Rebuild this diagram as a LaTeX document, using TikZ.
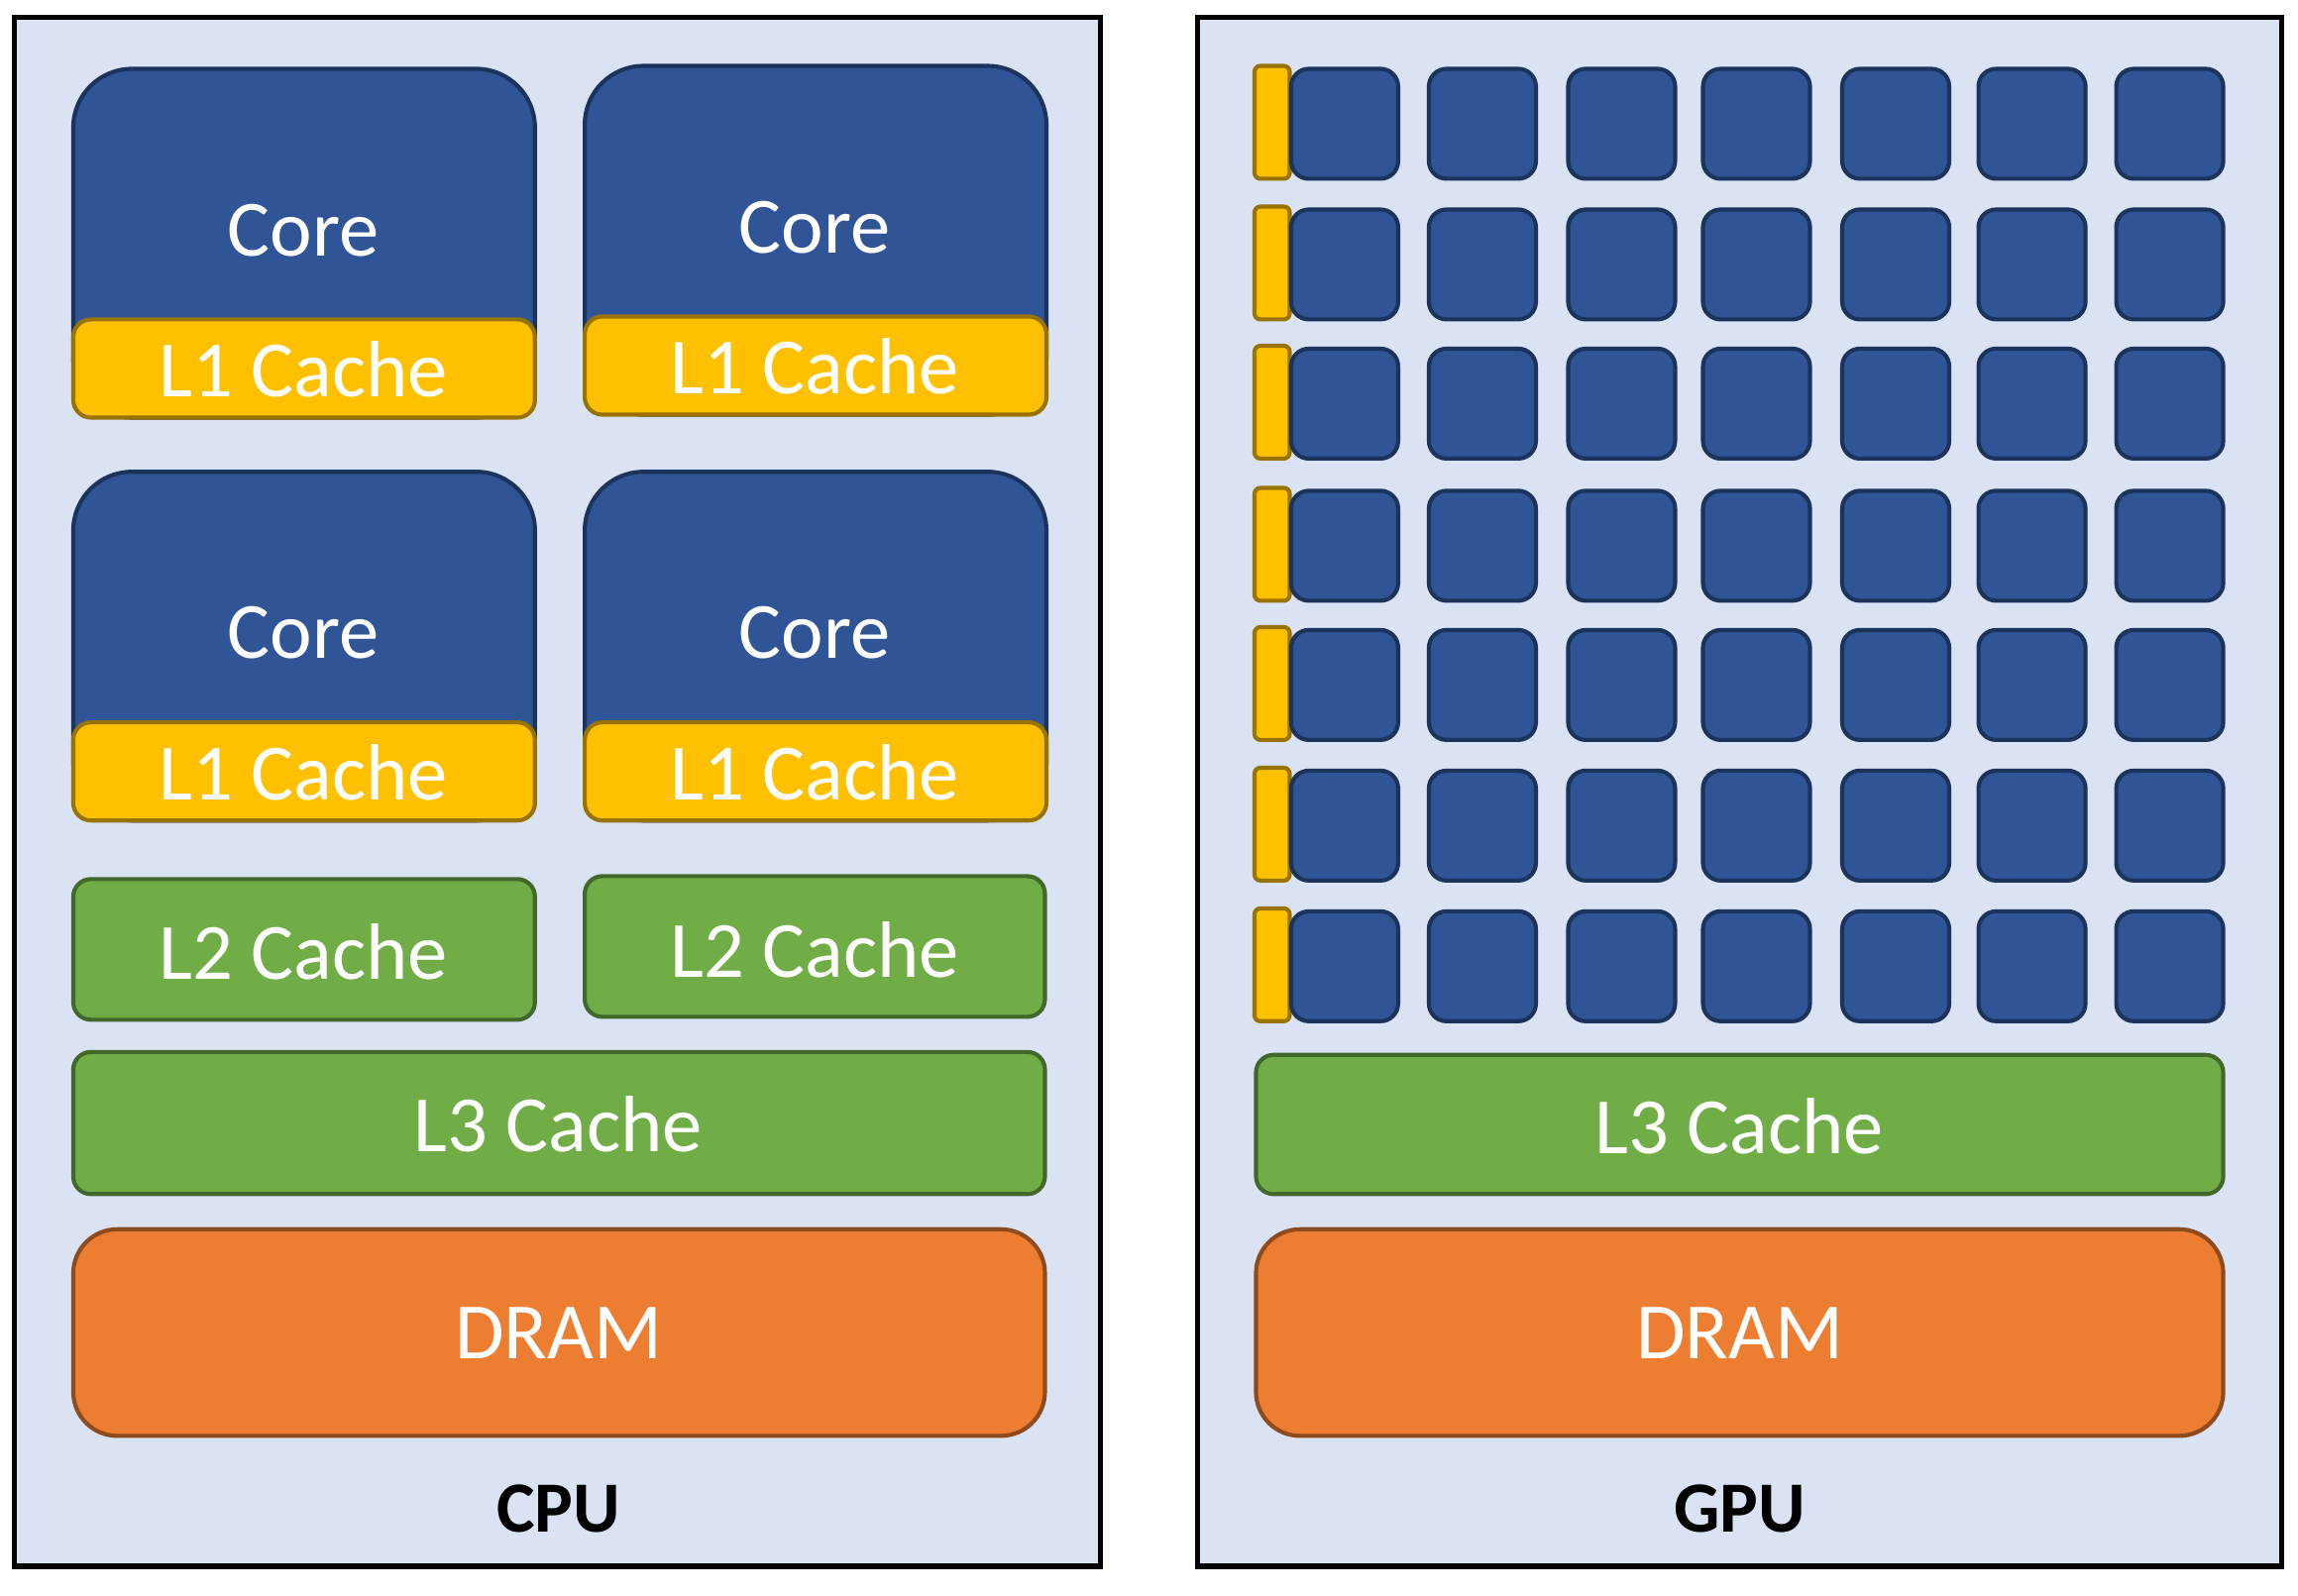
\documentclass[tikz,border=0pt]{standalone}
\usepackage{fontspec}
\setmainfont{Carlito}
\begin{document}
\begin{tikzpicture}[x=0.01cm,y=-0.01cm,
  chip/.style={draw=black,line width=1pt,fill=panel},
  blk/.style={draw=#1!60!black,line width=0.8pt,rounded corners=0.12cm},
  lbl/.style={text=white,font=\fontsize{15.5}{18}\selectfont},
  cell/.style={draw=coreb!60!black,fill=coreb,line width=0.8pt,rounded corners=0.12cm}]
\definecolor{panel}{HTML}{DAE3F3}
\definecolor{coreb}{HTML}{2F5597}
\definecolor{yel}{HTML}{FFC000}
\definecolor{grn}{HTML}{70AD47}
\definecolor{org}{HTML}{ED7D31}
\useasboundingbox (0,0) rectangle (1568,1089);
\draw[chip] (10,12) rectangle (751,1069);
\draw[chip] (817,12) rectangle (1557,1069);
% CPU cores
\foreach \x/\y/\n in {50/47/a,399/45/b,50/322/c,399/322/d}{
  \pgfmathsetmacro{\xr}{\x+315}
  \pgfmathsetmacro{\yb}{\y+238}
  \pgfmathsetmacro{\yl}{\y+171}
  \draw[draw=coreb!60!black,fill=coreb,line width=0.8pt,rounded corners=0.4cm] (\x,\yb) rectangle (\xr,\y);
  \node[lbl] (core\n) at ({\x+157},{\y+110}) {Core};
  \draw[blk=yel,fill=yel] (\x,\yl) rectangle (\xr,\yb);
  \node[lbl] (l1\n) at ({\x+157},{\y+205}) {L1 Cache};
}
\draw[blk=grn,fill=grn] (50,600) rectangle (365,696);
\node[lbl] (l2a) at (207,650) {L2 Cache};
\draw[blk=grn,fill=grn] (399,598) rectangle (713,694);
\node[lbl] (l2b) at (556,648) {L2 Cache};
\draw[blk=grn,fill=grn] (50,718) rectangle (713,815);
\node[lbl] (l3c) at (381,767) {L3 Cache};
\draw[blk=org,fill=org,rounded corners=0.3cm] (50,839) rectangle (713,980);
\node[lbl] (dramc) at (381,910) {DRAM};
\node[font=\bfseries\fontsize{14}{16}\selectfont] (cpu) at (381,1030) {CPU};
% GPU grid
\foreach \y in {47,143,238,335,430,526,622}{
  \draw[blk=yel,fill=yel,rounded corners=0.04cm] (856,{\y-2}) rectangle (880,{\y+75});
  \foreach \x in {881,975,1070,1162,1257,1350,1444}{
    \draw[cell] (\x,\y) rectangle ({\x+73},{\y+75});
  }
}
\draw[blk=grn,fill=grn] (857,720) rectangle (1517,815);
\node[lbl] (l3g) at (1187,769) {L3 Cache};
\draw[blk=org,fill=org,rounded corners=0.3cm] (857,839) rectangle (1517,980);
\node[lbl] (dramg) at (1187,910) {DRAM};
\node[font=\bfseries\fontsize{14}{16}\selectfont] (gpu) at (1187,1030) {GPU};
\end{tikzpicture}
\end{document}
